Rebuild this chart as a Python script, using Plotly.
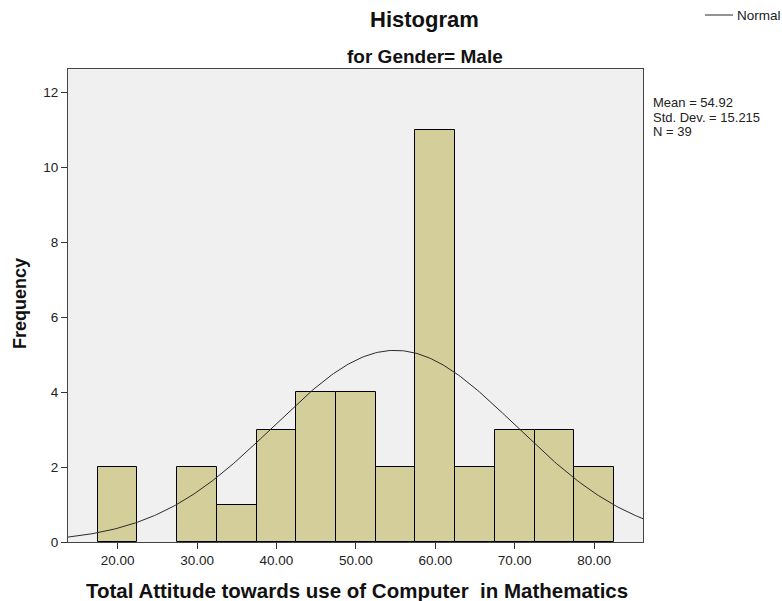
import numpy as np
import plotly.graph_objects as go

bin_centers = [20, 25, 30, 35, 40, 45, 50, 55, 60, 65, 70, 75, 80]
counts = [2, 0, 2, 1, 3, 4, 4, 2, 11, 2, 3, 3, 2]
bin_width = 5
mean_val = 54.92
std_val = 15.215
n_val = 39
x_ticks = [20, 30, 40, 50, 60, 70, 80]
x_tick_labels = ["20.00", "30.00", "40.00", "50.00", "60.00", "70.00", "80.00"]
y_ticks = [0, 2, 4, 6, 8, 10, 12]

x_range = [13.75, 86.15]
y_range = [0, 12.62]

bx = [c for c, v in zip(bin_centers, counts) if v > 0]
by = [v for v in counts if v > 0]

xs = np.linspace(x_range[0], x_range[1], 300)
ys = n_val * bin_width / (std_val * np.sqrt(2 * np.pi)) * np.exp(-0.5 * ((xs - mean_val) / std_val) ** 2)

W, H = 782, 601
L, R, T, B = 68, 139, 69, 59
PW, PH = W - L - R, H - T - B


def px(xp):
    return (xp - L) / PW


def py(yp):
    return (H - B - yp) / PH


fig = go.Figure()
fig.add_trace(go.Bar(
    x=bx, y=by, width=bin_width,
    marker=dict(color="#D3CE9A", line=dict(color="#000000", width=1)),
    showlegend=False, hoverinfo="x+y",
))
fig.add_trace(go.Scatter(
    x=xs, y=ys, mode="lines", name="Normal", showlegend=False,
    line=dict(color="#2a2a2a", width=1),
))

font_family = "Liberation Sans, Arial, sans-serif"
stats_lines = [f"Mean = {mean_val:.2f}", f"Std. Dev. = {std_val:.3f}", f"N = {n_val}"]

annotations = [
    dict(text="<b>Histogram</b>", xref="paper", yref="paper",
         x=px(424.5), y=py(19.5), xanchor="center", yanchor="middle",
         showarrow=False, font=dict(size=22, color="#111111")),
    dict(text="<b>for Gender= Male</b>", xref="paper", yref="paper",
         x=px(424.5), y=py(57), xanchor="center", yanchor="middle",
         showarrow=False, font=dict(size=19, color="#111111")),
    dict(text="<b>Total Attitude towards use of Computer  in Mathematics</b>",
         xref="paper", yref="paper", x=px(356.5), y=py(590.5),
         xanchor="center", yanchor="middle", showarrow=False,
         font=dict(size=20.5, color="#111111")),
    dict(text="<b>Frequency</b>", xref="paper", yref="paper", textangle=-90,
         x=px(20), y=py(303), xanchor="center", yanchor="middle",
         showarrow=False, font=dict(size=18, color="#111111")),
    dict(text="Normal", xref="paper", yref="paper",
         x=px(735), y=py(15), xanchor="left", yanchor="middle",
         showarrow=False, font=dict(size=13.5, color="#222222")),
]
for i, line in enumerate(stats_lines):
    annotations.append(dict(
        text=line, xref="paper", yref="paper",
        x=px(651), y=py(102 + 15 * i), xanchor="left", yanchor="middle",
        showarrow=False, font=dict(size=13, color="#222222"),
    ))

fig.update_layout(
    width=W, height=H,
    margin=dict(l=L, r=R, t=T, b=B, pad=0, autoexpand=False),
    paper_bgcolor="white",
    plot_bgcolor="#F0F0F0",
    font=dict(family=font_family, color="#222222", size=13),
    bargap=0,
    showlegend=False,
    xaxis=dict(
        range=x_range, tickvals=x_ticks, ticktext=x_tick_labels,
        showgrid=False, zeroline=False,
        showline=True, linecolor="#444444", linewidth=1, mirror=True,
        ticks="outside", ticklen=6, tickcolor="#333333",
        tickfont=dict(size=13.5, color="#222222"),
    ),
    yaxis=dict(
        range=y_range, tickvals=y_ticks,
        showgrid=False, zeroline=False,
        showline=True, linecolor="#444444", linewidth=1, mirror=True,
        ticks="outside", ticklen=6, tickcolor="#333333",
        tickfont=dict(size=13.5, color="#222222"),
    ),
    shapes=[
        dict(type="line", xref="paper", yref="paper",
             x0=px(705), x1=px(733), y0=py(15), y1=py(15),
             line=dict(color="#2a2a2a", width=1)),
    ],
    annotations=annotations,
)

fig.write_html("out.html", config={"displayModeBar": False},
               post_script="document.body.style.margin='0px';")
